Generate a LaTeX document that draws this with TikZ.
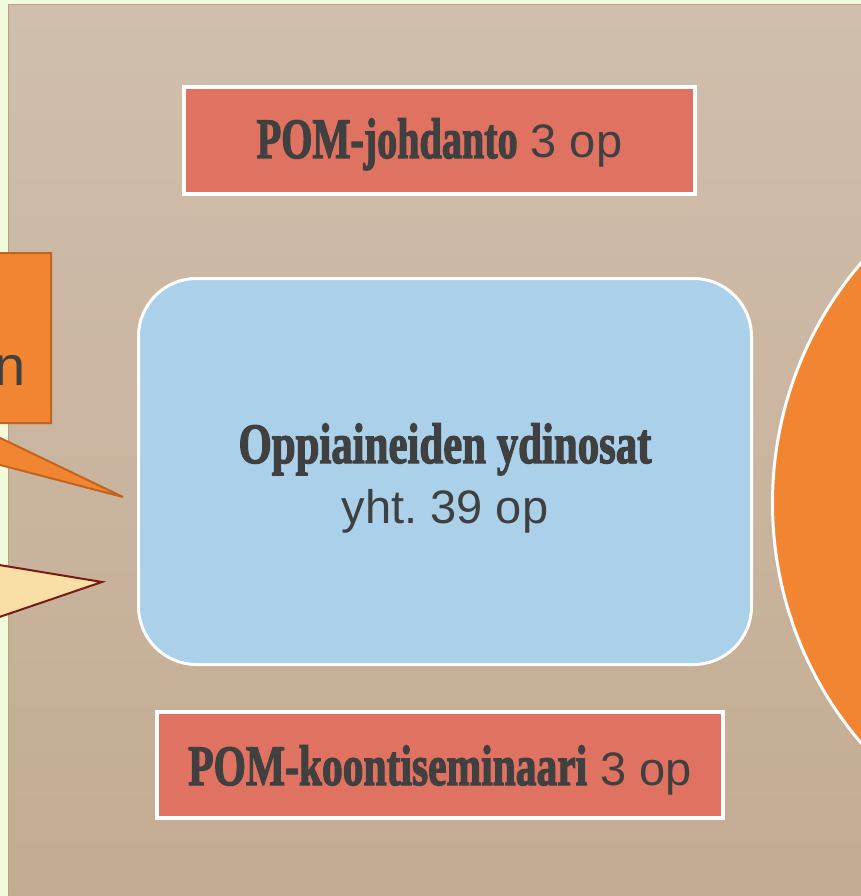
\documentclass[tikz,border=0pt]{standalone}
\usepackage{fontspec}
\usepackage{graphicx}
\setmainfont{Liberation Serif}
\newfontfamily\opfont{Liberation Sans}
\newfontfamily\headfont[BoldFeatures={FakeBold=2.5}]{Liberation Serif}
\definecolor{bggreen}{HTML}{F2FADC}
\definecolor{tantop}{HTML}{D0BFAD}
\definecolor{tanbot}{HTML}{C3AB91}
\definecolor{tanline}{HTML}{B5A37A}
\definecolor{boxred}{HTML}{E07262}
\definecolor{boxblue}{HTML}{ABD0EA}
\definecolor{boxorange}{HTML}{F28532}
\definecolor{orangeline}{HTML}{C0641E}
\definecolor{paleyellow}{HTML}{F9DFA6}
\definecolor{darkred}{HTML}{7A1A10}
\definecolor{txtgray}{HTML}{404040}
\newcommand\headtxt[2]{\resizebox{#1}{\height}{\headfont\fontsize{57}{60}\selectfont\bfseries #2}}
\newcommand\optxt[1]{{\opfont\fontsize{47}{60}\selectfont #1}}
\newcommand\lowered[2]{\raisebox{-#1}[0pt][0pt]{#2}}
\begin{document}
\begin{tikzpicture}[x=1pt,y=-1pt,
  redbox/.style={rectangle, fill=boxred, draw=white, line width=4pt, inner sep=0pt, text=txtgray},
  bluebox/.style={rectangle, rounded corners=58pt, fill=boxblue, draw=white, line width=3pt, inner sep=0pt, text=txtgray, align=center, font=\opfont\fontsize{47}{60}\selectfont},
  bigdisc/.style={circle, fill=boxorange, draw=white, line width=3pt, inner sep=0pt},
  orangecallout/.style={fill=boxorange, draw=orangeline, line width=2pt, line join=miter},
  yellowcallout/.style={fill=paleyellow, draw=darkred, line width=2pt, line join=miter}]
\useasboundingbox (0,0) rectangle (861,896);
\fill[bggreen] (0,0) rectangle (861,896);
\shade[top color=tantop, bottom color=tanbot] (8.5,4.5) rectangle (880,910);
\draw[tanline, line width=1.5pt] (8.5,910) -- (8.5,4.5) -- (880,4.5);

% right disc
\node[bigdisc, minimum size=739pt] (disc) at (1142,503) {};

% central core box
\node[bluebox, minimum width=613pt, minimum height=386pt] (core) at (445,471.5)
  {\lowered{21.5pt}{\headtxt{413pt}{Oppiaineiden ydinosat}}\\\lowered{21.5pt}{yht.\ 39 op}};

% top and bottom boxes
\node[redbox, minimum width=511pt, minimum height=107pt] (intro) at (439.5,140.5)
  {\lowered{17.5pt}{\headtxt{261pt}{POM-johdanto}\optxt{\ 3 op}}};
\node[redbox, minimum width=566pt, minimum height=106pt] (seminar) at (440,765)
  {\lowered{20pt}{\headtxt{399pt}{POM-koontiseminaari}\optxt{\ 3 op}}};

% callouts on the left
\coordinate (tipA) at (123,497);
\coordinate (tipB) at (102,582);
\draw[orangecallout] (-300,253) -- (51,253) -- (51,423) -- (-31,423) -- (tipA) -- (-161,423) -- (-300,423) -- cycle;
\node[anchor=base east, inner sep=0pt, text=txtgray] (calloutA) at (26,385) {{\opfont\fontsize{56}{60}\selectfont n}};
\draw[yellowcallout] (-200,532) -- (tipB) -- (-200,685) -- cycle;
\end{tikzpicture}
\end{document}
